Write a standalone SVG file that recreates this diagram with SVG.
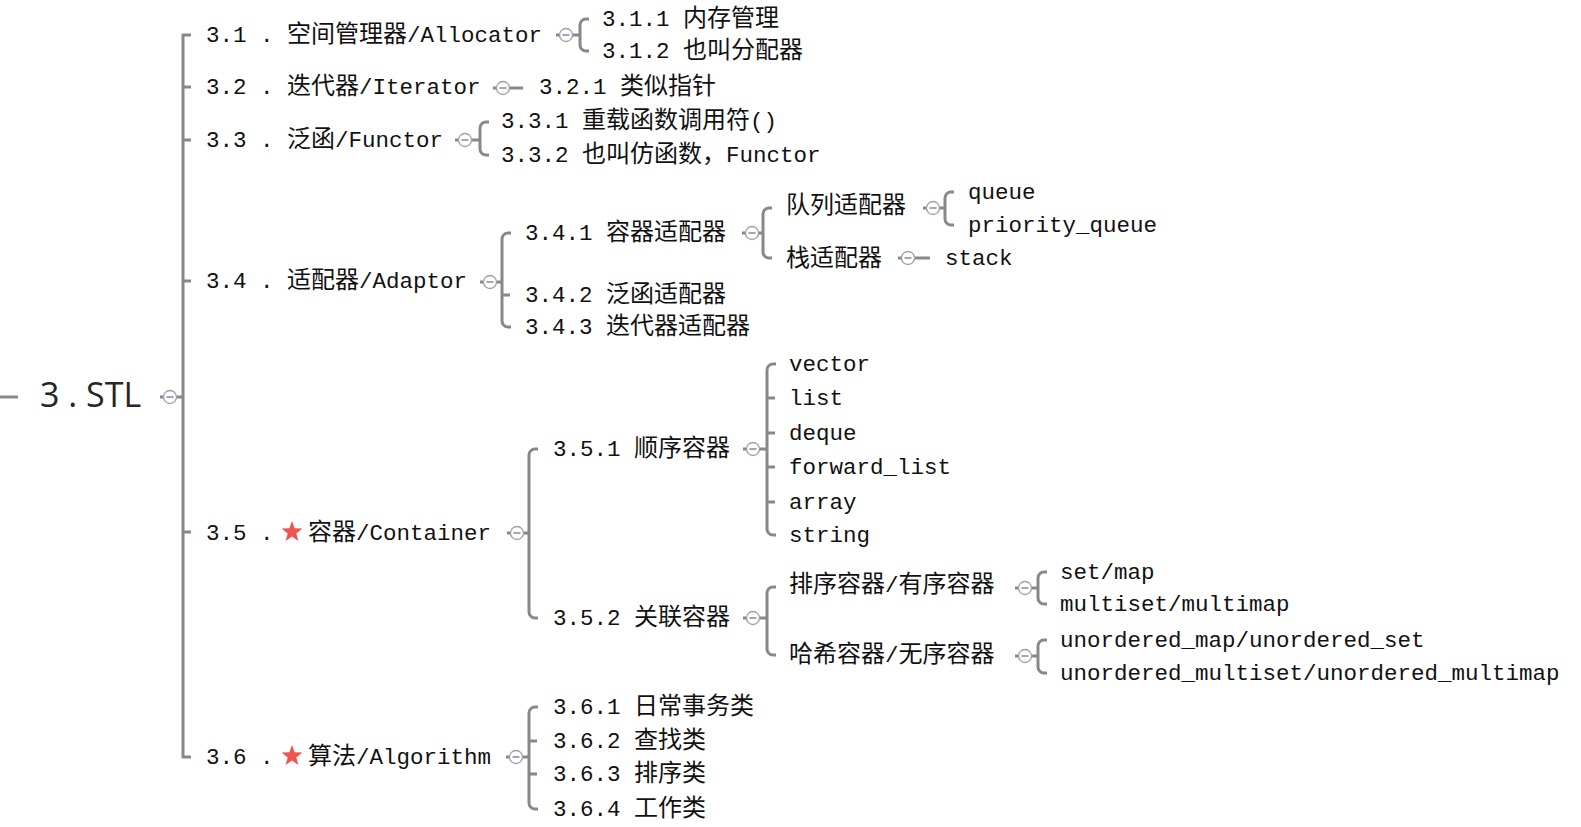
<svg xmlns="http://www.w3.org/2000/svg" xmlns:xlink="http://www.w3.org/1999/xlink" width="1581" height="827" viewBox="0 0 1581 827">
<style>
.t{font-family:"Liberation Mono","Noto Sans CJK SC",monospace;font-size:22.5px;fill:#111;}
.c{font-family:"Noto Sans CJK SC",sans-serif;font-size:24px;}
.root{font-family:"Open Sans","Liberation Sans",sans-serif;font-size:34px;fill:#262626;}
.ln{stroke:#888;stroke-width:3;fill:none;}
</style>
<defs>
<g id="col"><circle r="6.5" fill="#fff" stroke="#a0a0a0" stroke-width="1.3"/><line x1="-3.5" y1="0" x2="3.5" y2="0" stroke="#6f82b8" stroke-width="1.4"/></g>
<polygon id="star" fill="#ef5350" points="0,-11 2.65,-3.65 10.46,-3.4 4.28,1.39 6.47,8.9 0,4.5 -6.47,8.9 -4.28,1.39 -10.46,-3.4 -2.65,-3.65"/>
</defs>
<rect width="1581" height="827" fill="#fff"/>
<g id="connectors">
<path class="ln" d="M0 397H18" stroke-width="4"/>
<path class="ln" d="M160 397H183"/>
<path class="ln" d="M191 35H183V757H191M183 87H191M183 140H191M183 281H191M183 532H191"/>
<path class="ln" d="M556 35H580M589 19H586A6 6 0 0 0 580 25V45A6 6 0 0 0 586 51H589"/>
<path class="ln" d="M493 88H523"/>
<path class="ln" d="M455 140H480M489 122H486A6 6 0 0 0 480 128V149A6 6 0 0 0 486 155H489"/>
<path class="ln" d="M480 282H502M511 233H508A6 6 0 0 0 502 239V321A6 6 0 0 0 508 327H511M502 295H510"/>
<path class="ln" d="M742 233H763M772 208H769A6 6 0 0 0 763 214V252A6 6 0 0 0 769 258H772"/>
<path class="ln" d="M923 208H945M954 192H951A6 6 0 0 0 945 198V219A6 6 0 0 0 951 225H954"/>
<path class="ln" d="M898 258H930"/>
<path class="ln" d="M507 533H529M538 449H535A6 6 0 0 0 529 455V612A6 6 0 0 0 535 618H538"/>
<path class="ln" d="M743 449H767M776 364H773A6 6 0 0 0 767 370V529A6 6 0 0 0 773 535H776M767 398H775M767 433H775M767 467H775M767 502H775"/>
<path class="ln" d="M743 618H767M776 587H773A6 6 0 0 0 767 593V649A6 6 0 0 0 773 655H776"/>
<path class="ln" d="M1015 588H1038M1047 572H1044A6 6 0 0 0 1038 578V598A6 6 0 0 0 1044 604H1047"/>
<path class="ln" d="M1015 656H1038M1047 640H1044A6 6 0 0 0 1038 646V667A6 6 0 0 0 1044 673H1047"/>
<path class="ln" d="M506 757H529M538 707H535A6 6 0 0 0 529 713V803A6 6 0 0 0 535 809H538M529 741H537M529 774H537"/>
</g>
<g id="n-root"><text class="root" x="40" y="407">3 . STL</text><use xlink:href="#col" x="170" y="397"/></g>
<g id="n-3-1"><text class="t" x="206" y="42">3.1 . <tspan class="c">空间管理器</tspan>/Allocator</text><use xlink:href="#col" x="566" y="35"/></g>
<g id="n-3-1-1"><text class="t" x="602" y="26">3.1.1 <tspan class="c">内存管理</tspan></text></g>
<g id="n-3-1-2"><text class="t" x="602" y="58">3.1.2 <tspan class="c">也叫分配器</tspan></text></g>
<g id="n-3-2"><text class="t" x="206" y="94">3.2 . <tspan class="c">迭代器</tspan>/Iterator</text><use xlink:href="#col" x="503" y="88"/></g>
<g id="n-3-2-1"><text class="t" x="539" y="94">3.2.1 <tspan class="c">类似指针</tspan></text></g>
<g id="n-3-3"><text class="t" x="206" y="147">3.3 . <tspan class="c">泛函</tspan>/Functor</text><use xlink:href="#col" x="465" y="140"/></g>
<g id="n-3-3-1"><text class="t" x="501" y="128">3.3.1 <tspan class="c">重载函数调用符</tspan>()</text></g>
<g id="n-3-3-2"><text class="t" x="501" y="162">3.3.2 <tspan class="c">也叫仿函数，</tspan>Functor</text></g>
<g id="n-3-4"><text class="t" x="206" y="288">3.4 . <tspan class="c">适配器</tspan>/Adaptor</text><use xlink:href="#col" x="490" y="282"/></g>
<g id="n-3-4-1"><text class="t" x="525" y="240">3.4.1 <tspan class="c">容器适配器</tspan></text><use xlink:href="#col" x="752" y="233"/></g>
<g id="n-3-4-2"><text class="t" x="525" y="302">3.4.2 <tspan class="c">泛函适配器</tspan></text></g>
<g id="n-3-4-3"><text class="t" x="525" y="334">3.4.3 <tspan class="c">迭代器适配器</tspan></text></g>
<g id="n-queue-adaptor"><text class="t" x="786" y="213"><tspan class="c">队列适配器</tspan></text><use xlink:href="#col" x="933" y="208"/></g>
<g id="n-queue"><text class="t" x="968" y="199">queue</text></g>
<g id="n-priority-queue"><text class="t" x="968" y="232">priority_queue</text></g>
<g id="n-stack-adaptor"><text class="t" x="786" y="266"><tspan class="c">栈适配器</tspan></text><use xlink:href="#col" x="908" y="258"/></g>
<g id="n-stack"><text class="t" x="945" y="265">stack</text></g>
<g id="n-3-5"><text class="t" x="206" y="540">3.5 . <tspan x="308" class="c">容器</tspan>/Container</text><use xlink:href="#star" x="292" y="532"/><use xlink:href="#col" x="517" y="533"/></g>
<g id="n-3-5-1"><text class="t" x="553" y="456">3.5.1 <tspan class="c">顺序容器</tspan></text><use xlink:href="#col" x="753" y="449"/></g>
<g id="n-vector"><text class="t" x="789" y="371">vector</text></g>
<g id="n-list"><text class="t" x="789" y="405">list</text></g>
<g id="n-deque"><text class="t" x="789" y="440">deque</text></g>
<g id="n-forward-list"><text class="t" x="789" y="474">forward_list</text></g>
<g id="n-array"><text class="t" x="789" y="509">array</text></g>
<g id="n-string"><text class="t" x="789" y="542">string</text></g>
<g id="n-3-5-2"><text class="t" x="553" y="625">3.5.2 <tspan class="c">关联容器</tspan></text><use xlink:href="#col" x="753" y="618"/></g>
<g id="n-sorted"><text class="t" x="789" y="592"><tspan class="c">排序容器</tspan>/<tspan class="c">有序容器</tspan></text><use xlink:href="#col" x="1025" y="588"/></g>
<g id="n-set-map"><text class="t" x="1060" y="579">set/map</text></g>
<g id="n-multiset"><text class="t" x="1060" y="611">multiset/multimap</text></g>
<g id="n-hash"><text class="t" x="789" y="662"><tspan class="c">哈希容器</tspan>/<tspan class="c">无序容器</tspan></text><use xlink:href="#col" x="1025" y="656"/></g>
<g id="n-unordered-map"><text class="t" x="1060" y="647">unordered_map/unordered_set</text></g>
<g id="n-unordered-multi"><text class="t" x="1060" y="680">unordered_multiset/unordered_multimap</text></g>
<g id="n-3-6"><text class="t" x="206" y="764">3.6 . <tspan x="308" class="c">算法</tspan>/Algorithm</text><use xlink:href="#star" x="292" y="756"/><use xlink:href="#col" x="516" y="757"/></g>
<g id="n-3-6-1"><text class="t" x="553" y="714">3.6.1 <tspan class="c">日常事务类</tspan></text></g>
<g id="n-3-6-2"><text class="t" x="553" y="748">3.6.2 <tspan class="c">查找类</tspan></text></g>
<g id="n-3-6-3"><text class="t" x="553" y="781">3.6.3 <tspan class="c">排序类</tspan></text></g>
<g id="n-3-6-4"><text class="t" x="553" y="816">3.6.4 <tspan class="c">工作类</tspan></text></g>
</svg>
